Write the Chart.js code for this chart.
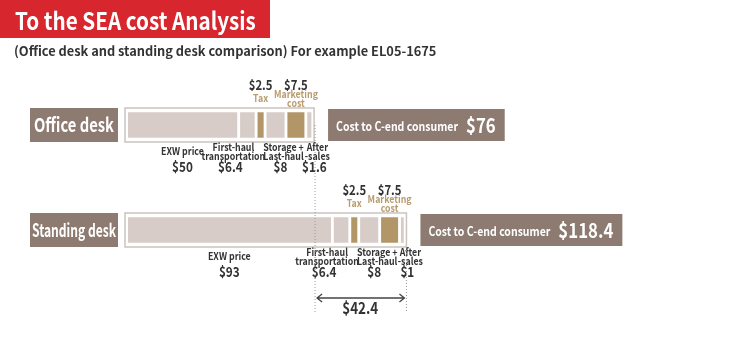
<!DOCTYPE html>
<html lang="en">
<head>
<meta charset="UTF-8">
<title>To the SEA cost Analysis</title>
<script src="https://cdn.jsdelivr.net/npm/chart.js"></script>
<style>
  body { margin: 0; background: #fff; font-family: 'Noto Sans CJK SC', 'Noto Sans', sans-serif; }
  .wrap { position: relative; width: 750px; height: 337px; overflow: hidden; }
  .title { position: absolute; left: 0; top: 0; width: 270px; height: 38px; background: #d8262e; color: #fff;
           font-weight: 700; font-size: 24px; line-height: 39px; padding-left: 15px; box-sizing: border-box; white-space: nowrap; }
  .title span { display: inline-block; transform: scaleX(0.86); transform-origin: left center; }
  .sub { position: absolute; left: 14px; top: 41px; font-size: 12.8px; font-weight: 700; color: #333; white-space: nowrap; }
  canvas { position: absolute; left: 0; top: 0; }
</style>
</head>
<body>
<div class="wrap">
  <canvas id="costChart" width="750" height="337"></canvas>
  <div class="title"><span>To the SEA cost Analysis</span></div>
  <div class="sub">(Office desk and standing desk comparison) For example EL05-1675</div>
</div>
<script>
// data
const categories = ['Office desk', 'Standing desk'];
const segmentNames = ['EXW price', 'First-haul transportation', 'Tax', 'Storage + Last-haul', 'Marketing cost', 'After-sales'];
const exwPrice = [50, 93];
const firstHaul = [6.4, 6.4];
const tax = [2.5, 2.5];
const storageLastHaul = [8, 8];
const marketing = [7.5, 7.5];
const afterSales = [1.6, 1];

// styling
const FONT = "'Noto Sans CJK SC', 'Noto Sans', sans-serif";
const LIGHT = '#d7ccc7', TAN = '#b39668', TAN_TEXT = '#b89c6e', BOX = '#8d7b71', DARK = '#333';
const segColors = [LIGHT, LIGHT, TAN, LIGHT, TAN, LIGHT];
const nameLines = [['EXW price'], ['First-haul', 'transportation'], ['Tax'], ['Storage +', 'Last-haul'], ['Marketing', 'cost'], ['After', '-sales']];
const labelAbove = [false, false, true, false, true, false];
const labelShift = [0, -17, 0, 5, 0, 5];
const GAP = 3.5;
const SQUEEZE = 0.84;

const series = [exwPrice, firstHaul, tax, storageLastHaul, marketing, afterSales];
const totals = categories.map((c, j) => Math.round(series.reduce((s, arr) => s + arr[j], 0) * 10) / 10);

function txt(ctx, s, x, y, size, color, align) {
  ctx.font = `700 ${size}px ${FONT}`;
  ctx.fillStyle = color;
  ctx.textAlign = align || 'center';
  ctx.textBaseline = 'middle';
  const w = ctx.measureText(s).width * SQUEEZE;
  ctx.fillText(s, x, y, w);
  return w;
}
function measure(ctx, s, size) {
  ctx.font = `700 ${size}px ${FONT}`;
  return ctx.measureText(s).width * SQUEEZE;
}

// small gaps between stacked segments
const gapPlugin = {
  id: 'gaps',
  afterDatasetsUpdate(chart) {
    chart.data.datasets.forEach((ds, i) => {
      chart.getDatasetMeta(i).data.forEach(bar => { bar.x += i * GAP; bar.base += i * GAP; });
    });
  }
};

function rowBox(chart, j) {
  const first = chart.getDatasetMeta(0).data[j];
  const last = chart.getDatasetMeta(series.length - 1).data[j];
  return { left: first.base - 3, right: last.x + 3, top: first.y - 17, bottom: first.y + 17, y: first.y };
}

const decoPlugin = {
  id: 'deco',
  beforeDatasetsDraw(chart) {
    const ctx = chart.ctx;
    categories.forEach((c, j) => {
      const b = rowBox(chart, j);
      ctx.save();
      ctx.fillStyle = '#fff';
      ctx.strokeStyle = '#cbc3be';
      ctx.lineWidth = 1.5;
      ctx.fillRect(b.left, b.top, b.right - b.left, b.bottom - b.top);
      ctx.strokeRect(b.left, b.top, b.right - b.left, b.bottom - b.top);
      ctx.restore();
    });
  },
  afterDatasetsDraw(chart) {
    const ctx = chart.ctx;
    const boxes = categories.map((c, j) => rowBox(chart, j));
    ctx.save();

    boxes.forEach((b, j) => {
      // row label box
      ctx.fillStyle = BOX;
      ctx.fillRect(30, b.top, 88, b.bottom - b.top);
      ctx.font = `700 ${j === 0 ? 19 : 18}px ${FONT}`;
      ctx.fillStyle = '#fff';
      ctx.textAlign = 'center';
      ctx.textBaseline = 'middle';
      ctx.fillText(categories[j], 74, b.y, j === 0 ? 80 : 84);

      // cost to consumer box
      const w1 = measure(ctx, 'Cost to C-end consumer', 12.5);
      const w2 = measure(ctx, '$' + totals[j], 20);
      const cx = b.right + 14;
      ctx.fillStyle = BOX;
      ctx.fillRect(cx, b.top + 1, 8 + w1 + 8 + w2 + 9, b.bottom - b.top - 2);
      txt(ctx, 'Cost to C-end consumer', cx + 8, b.y + 1, 12.5, '#fff', 'left');
      txt(ctx, '$' + totals[j], cx + 16 + w1, b.y, 20, '#fff', 'left');

      // segment labels
      series.forEach((arr, i) => {
        const bar = chart.getDatasetMeta(i).data[j];
        const x = (bar.x + bar.base) / 2 + labelShift[i];
        const lines = nameLines[i];
        const val = '$' + arr[j];
        if (labelAbove[i]) {
          txt(ctx, val, x, b.top - 23, 13.5, DARK);
          if (lines.length === 1) txt(ctx, lines[0], x, b.top - 10, 10.5, TAN_TEXT);
          else { txt(ctx, lines[0], x, b.top - 13.5, 10.5, TAN_TEXT); txt(ctx, lines[1], x, b.top - 5, 10.5, TAN_TEXT); }
        } else {
          if (lines.length === 1) txt(ctx, lines[0], x, b.bottom + 9, 10.5, DARK);
          else { txt(ctx, lines[0], x + 3, b.bottom + 5.5, 10.5, DARK); txt(ctx, lines[1], x + 3, b.bottom + 14.5, 10.5, DARK); }
          txt(ctx, val, x, b.bottom + 25, 14, DARK);
        }
      });
    });

    // difference marker
    const xa = boxes[0].right, xb = boxes[1].right;
    ctx.strokeStyle = '#9a9a9a';
    ctx.lineWidth = 1;
    ctx.setLineDash([1, 2]);
    ctx.beginPath();
    ctx.moveTo(xa + 1, boxes[0].y); ctx.lineTo(xa + 1, 313);
    ctx.moveTo(xb, boxes[1].bottom); ctx.lineTo(xb, 313);
    ctx.stroke();
    ctx.setLineDash([]);
    const ay = 298;
    ctx.strokeStyle = '#444';
    ctx.lineWidth = 1.3;
    ctx.beginPath();
    ctx.moveTo(xa + 3, ay); ctx.lineTo(xb - 2, ay);
    ctx.moveTo(xa + 8, ay - 4); ctx.lineTo(xa + 3, ay); ctx.lineTo(xa + 8, ay + 4);
    ctx.moveTo(xb - 7, ay - 4); ctx.lineTo(xb - 2, ay); ctx.lineTo(xb - 7, ay + 4);
    ctx.stroke();
    const diff = Math.round((totals[1] - totals[0]) * 10) / 10;
    txt(ctx, '$' + diff, (xa + xb) / 2, 308, 16, DARK);
    ctx.restore();
  }
};

new Chart(document.getElementById('costChart'), {
  type: 'bar',
  data: {
    labels: categories,
    datasets: series.map((arr, i) => ({
      label: segmentNames[i],
      data: arr,
      backgroundColor: segColors[i],
      borderWidth: 0,
      barThickness: 25
    }))
  },
  options: {
    indexAxis: 'y',
    responsive: false,
    animation: false,
    devicePixelRatio: 1,
    layout: { padding: { left: 128, right: 12, top: 72.5, bottom: 54.5 } },
    plugins: { legend: { display: false }, tooltip: { enabled: false } },
    scales: {
      x: { stacked: true, min: 0, max: 280, display: false },
      y: { stacked: true, display: false }
    }
  },
  plugins: [gapPlugin, decoPlugin]
});
</script>
</body>
</html>
